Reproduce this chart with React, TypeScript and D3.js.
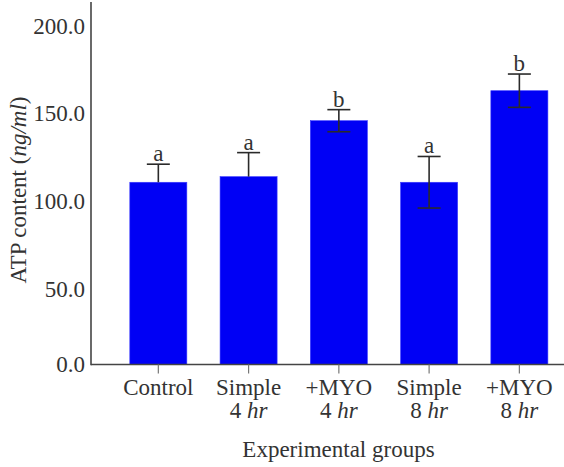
import React from "react";
import * as d3 from "d3";

const categories = ["Control", "Simple|4 hr", "+MYO|4 hr", "Simple|8 hr", "+MYO|8 hr"];
const means = [103.9, 107.1, 139.0, 103.9, 156.1];
const errors = [10.3, 13.7, 6.3, 14.7, 9.5];
const lowerVisible = [false, false, true, true, true];
const letters = ["a", "a", "b", "a", "b"];
const yTicks = [0, 50, 100, 150, 200];

const W = 564;
const H = 467;
const TS = { fontFamily: "Liberation Serif, Times New Roman, serif" };
const TEXT = "#333";

export default function App() {
  const y = d3.scaleLinear().domain([0, 200]).range([364.5, 13.7]);
  const x = d3
    .scaleBand<string>()
    .domain(categories)
    .range([113.2, 564.5])
    .paddingInner(0.368)
    .paddingOuter(0.184);
  const bw = x.bandwidth();
  const capW = 23;
  const x0 = 91;

  return (
    <svg
      width={W}
      height={H}
      style={{ position: "absolute", left: 0, top: 0, background: "#fff" }}
    >
      {/* bars */}
      {categories.map((c, i) => (
        <rect
          key={c}
          x={x(c)}
          y={y(means[i])}
          width={bw}
          height={y(0) - y(means[i])}
          fill="#0000f5"
          stroke="#3a3aff"
          strokeWidth={0.6}
        />
      ))}
      {/* error bars */}
      {categories.map((c, i) => {
        const cx = (x(c) as number) + bw / 2;
        const top = y(means[i] + errors[i]);
        const bot = lowerVisible[i] ? y(means[i] - errors[i]) : y(means[i]);
        return (
          <g key={"e" + c} stroke="#2a2a2a" strokeWidth={1.6}>
            <line x1={cx} x2={cx} y1={top} y2={bot} />
            <line x1={cx - capW / 2} x2={cx + capW / 2} y1={top} y2={top} />
            {lowerVisible[i] && (
              <line x1={cx - capW / 2} x2={cx + capW / 2} y1={bot} y2={bot} />
            )}
          </g>
        );
      })}
      {/* letters */}
      {categories.map((c, i) => {
        const cx = (x(c) as number) + bw / 2;
        return (
          <text
            key={"l" + c}
            x={cx}
            y={y(means[i] + errors[i]) - 3}
            textAnchor="middle"
            fontSize={23}
            fill={TEXT}
            style={TS}
          >
            {letters[i]}
          </text>
        );
      })}
      {/* axes */}
      <line x1={x0} x2={x0} y1={2} y2={y(0) + 0.8} stroke="#444" strokeWidth={1.6} />
      <line x1={x0} x2={564} y1={y(0)} y2={y(0)} stroke="#444" strokeWidth={1.6} />
      {categories.map((c) => {
        const cx = (x(c) as number) + bw / 2;
        return (
          <line key={"t" + c} x1={cx} x2={cx} y1={y(0)} y2={y(0) + 9} stroke="#777" strokeWidth={1.2} />
        );
      })}
      {/* y tick labels */}
      {yTicks.map((v) => (
        <text
          key={"y" + v}
          x={85}
          y={v === 0 ? y(0) + 7 : y(v) + 12.8 + 7}
          textAnchor="end"
          fontSize={23}
          fill={TEXT}
          style={TS}
        >
          {v.toFixed(1)}
        </text>
      ))}
      {/* x tick labels */}
      {categories.map((c) => {
        const cx = (x(c) as number) + bw / 2;
        const [l1, l2] = c.split("|");
        const parts = l2 ? l2.split(" ") : [];
        return (
          <text key={"x" + c} x={cx} textAnchor="middle" fontSize={23} fill={TEXT} style={TS}>
            <tspan x={cx} y={395}>{l1}</tspan>
            {l2 && (
              <tspan x={cx} y={418}>
                {parts[0] + " "}
                <tspan fontStyle="italic">{parts[1]}</tspan>
              </tspan>
            )}
          </text>
        );
      })}
      {/* axis titles */}
      <text x={338.5} y={457} textAnchor="middle" fontSize={23} fill={TEXT} style={TS}>
        Experimental groups
      </text>
      <text
        transform="translate(26,190) rotate(-90)"
        textAnchor="middle"
        fontSize={23}
        fill={TEXT}
        style={TS}
      >
        ATP content (<tspan fontStyle="italic">ng/ml</tspan>)
      </text>
    </svg>
  );
}
